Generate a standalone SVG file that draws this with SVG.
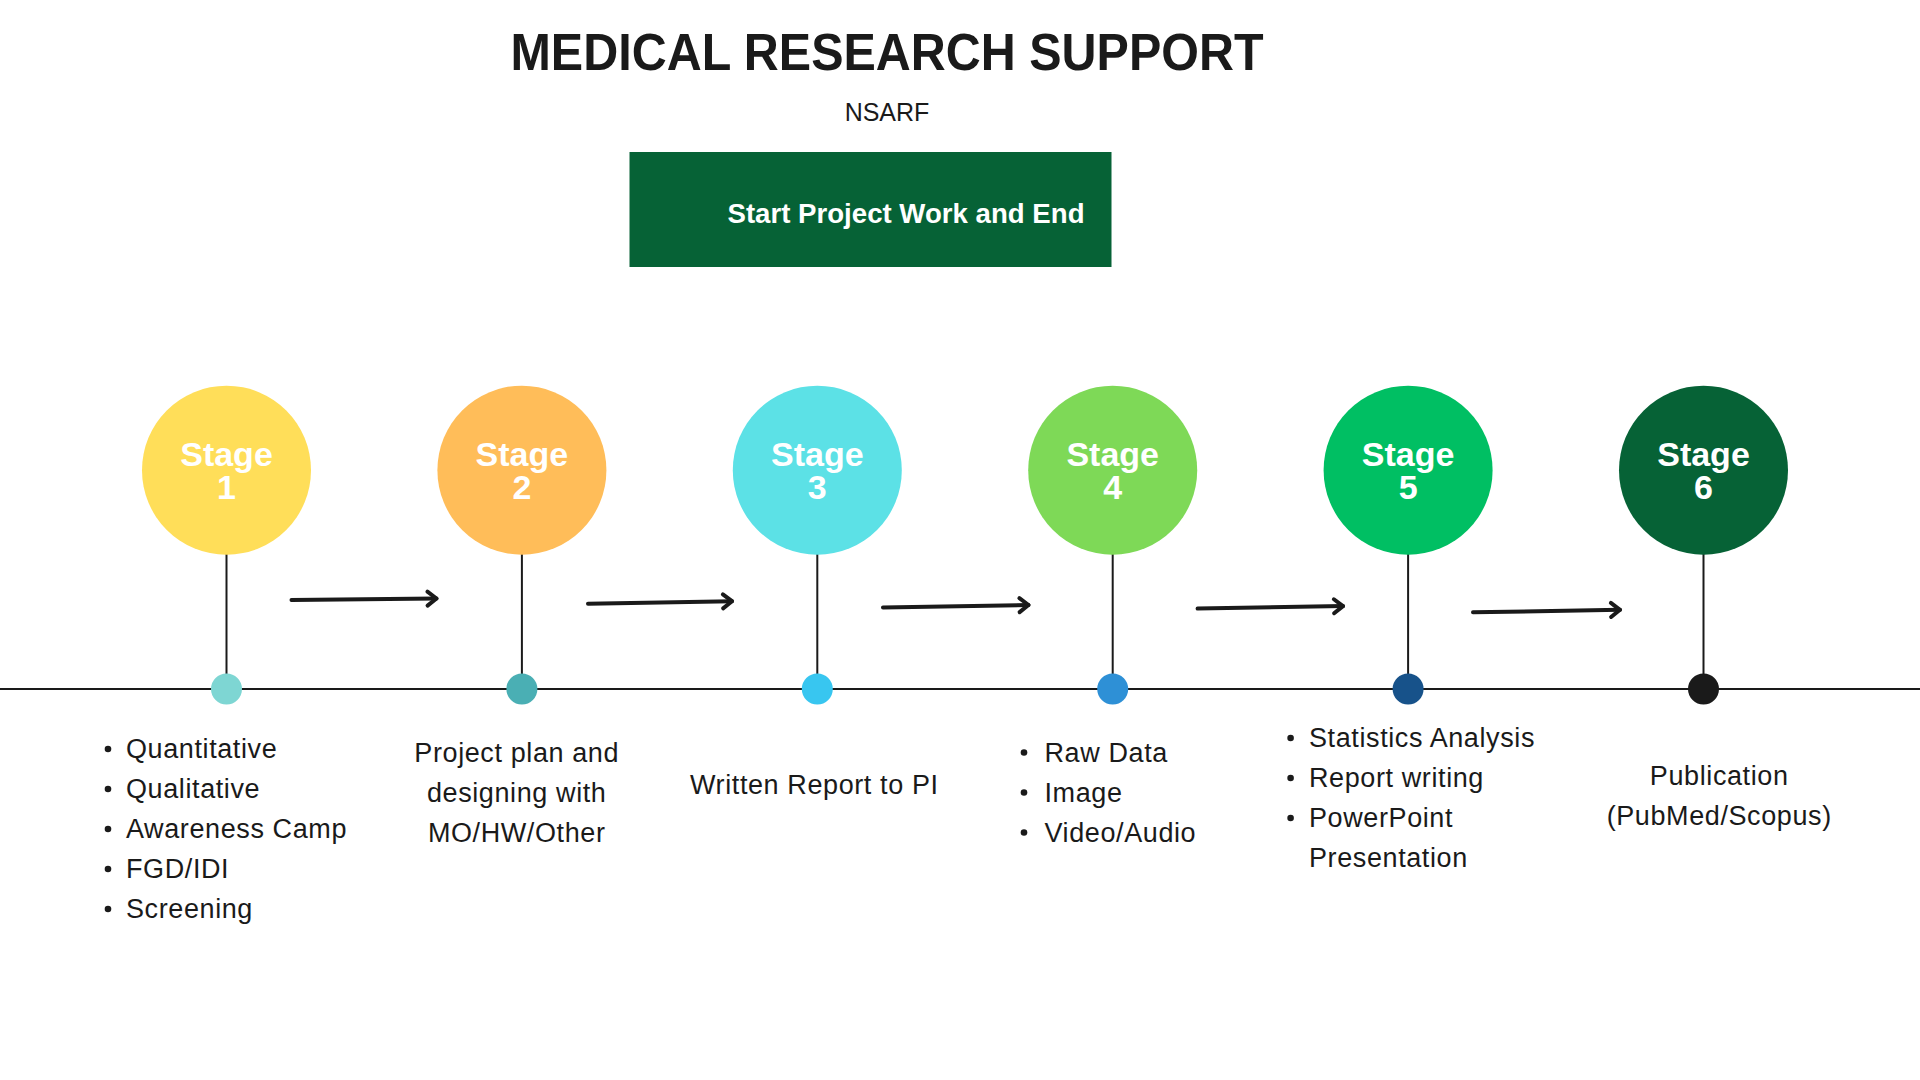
<svg xmlns="http://www.w3.org/2000/svg" width="1920" height="1080" viewBox="0 0 1920 1080">
<defs>
<style>
.title{font-family:"Liberation Sans",Arial,sans-serif;font-weight:bold;font-size:52px;fill:#1a1a1a}
.sub{font-family:"Liberation Sans",Arial,sans-serif;font-size:25px;fill:#1a1a1a}
.boxt{font-family:"Liberation Sans",Arial,sans-serif;font-weight:bold;font-size:27.5px;fill:#ffffff}
.st{font-family:"Liberation Sans",Arial,sans-serif;font-weight:bold;font-size:34px;fill:#ffffff;text-anchor:middle}
.body{font-family:"Liberation Sans",Arial,sans-serif;font-size:27px;fill:#1a1a1a;letter-spacing:0.6px}
.mid{text-anchor:middle}
.stem{stroke:#1a1a1a;stroke-width:2}
.arrow{stroke:#1a1a1a;stroke-width:4;fill:none;stroke-linecap:round}
.bul{fill:#1a1a1a}
</style>
<marker id="chev" markerUnits="userSpaceOnUse" markerWidth="24" markerHeight="24" viewBox="-12 -12 24 24" refX="0" refY="0" orient="auto">
<path d="M-9,-7 L0,0 L-9,7" fill="none" stroke="#1a1a1a" stroke-width="4" stroke-linecap="round" stroke-linejoin="round"/>
</marker>
</defs>
<rect width="1920" height="1080" fill="#ffffff"/>

<g id="header">
<text class="title" x="887" y="69.8" text-anchor="middle" textLength="753" lengthAdjust="spacingAndGlyphs">MEDICAL RESEARCH SUPPORT</text>
<text class="sub" x="887" y="121" text-anchor="middle">NSARF</text>
</g>

<g id="start-box">
<rect x="629.5" y="152" width="482" height="115" fill="#066236"/>
<text class="boxt" x="727.5" y="223" textLength="357" lengthAdjust="spacingAndGlyphs">Start Project Work and End</text>
</g>

<g id="timeline">
<line x1="0" y1="689" x2="1920" y2="689" stroke="#1a1a1a" stroke-width="2"/>
</g>

<g id="connectors">
<line class="stem" x1="226.5" y1="554" x2="226.5" y2="689"/>
<line class="stem" x1="521.9" y1="554" x2="521.9" y2="689"/>
<line class="stem" x1="817.3" y1="554" x2="817.3" y2="689"/>
<line class="stem" x1="1112.7" y1="554" x2="1112.7" y2="689"/>
<line class="stem" x1="1408.1" y1="554" x2="1408.1" y2="689"/>
<line class="stem" x1="1703.5" y1="554" x2="1703.5" y2="689"/>
<path class="arrow" d="M291.5,600 L436.5,598.5" marker-end="url(#chev)"/>
<path class="arrow" d="M588,603.7 L732,601.2" marker-end="url(#chev)"/>
<path class="arrow" d="M883,607.4 L1028.5,605" marker-end="url(#chev)"/>
<path class="arrow" d="M1197.6,608.6 L1343,606.1" marker-end="url(#chev)"/>
<path class="arrow" d="M1473,612.3 L1620,609.8" marker-end="url(#chev)"/>
</g>

<g id="stage1">
<circle cx="226.5" cy="470.2" r="84.5" fill="#FFDE59"/>
<text class="st" x="226.5" y="466">Stage</text>
<text class="st" x="226.5" y="499">1</text>
<circle cx="226.5" cy="689" r="15.5" fill="#7ED6D3"/>
<g class="body">
<circle class="bul" cx="108" cy="749" r="3.3"/><text x="126" y="758">Quantitative</text>
<circle class="bul" cx="108" cy="789" r="3.3"/><text x="126" y="798">Qualitative</text>
<circle class="bul" cx="108" cy="829" r="3.3"/><text x="126" y="838">Awareness Camp</text>
<circle class="bul" cx="108" cy="869" r="3.3"/><text x="126" y="878">FGD/IDI</text>
<circle class="bul" cx="108" cy="909" r="3.3"/><text x="126" y="918">Screening</text>
</g>
</g>

<g id="stage2">
<circle cx="521.9" cy="470.2" r="84.5" fill="#FFBD59"/>
<text class="st" x="521.9" y="466">Stage</text>
<text class="st" x="521.9" y="499">2</text>
<circle cx="521.9" cy="689" r="15.5" fill="#4AAFB4"/>
<text class="body mid" x="516.7" y="761.6">Project plan and</text>
<text class="body mid" x="516.7" y="802">designing with</text>
<text class="body mid" x="516.7" y="842">MO/HW/Other</text>
</g>

<g id="stage3">
<circle cx="817.3" cy="470.2" r="84.5" fill="#5CE1E6"/>
<text class="st" x="817.3" y="466">Stage</text>
<text class="st" x="817.3" y="499">3</text>
<circle cx="817.3" cy="689" r="15.5" fill="#38C6F0"/>
<text class="body mid" x="814.3" y="793.5">Written Report to PI</text>
</g>

<g id="stage4">
<circle cx="1112.7" cy="470.2" r="84.5" fill="#7ED957"/>
<text class="st" x="1112.7" y="466">Stage</text>
<text class="st" x="1112.7" y="499">4</text>
<circle cx="1112.7" cy="689" r="15.5" fill="#2E90D6"/>
<g class="body">
<circle class="bul" cx="1024" cy="752.5" r="3.3"/><text x="1044.5" y="761.6">Raw Data</text>
<circle class="bul" cx="1024" cy="792.5" r="3.3"/><text x="1044.5" y="801.6">Image</text>
<circle class="bul" cx="1024" cy="832.5" r="3.3"/><text x="1044.5" y="841.6">Video/Audio</text>
</g>
</g>

<g id="stage5">
<circle cx="1408.1" cy="470.2" r="84.5" fill="#00BF63"/>
<text class="st" x="1408.1" y="466">Stage</text>
<text class="st" x="1408.1" y="499">5</text>
<circle cx="1408.1" cy="689" r="15.5" fill="#17528A"/>
<g class="body">
<circle class="bul" cx="1290.6" cy="738" r="3.3"/><text x="1309" y="747">Statistics Analysis</text>
<circle class="bul" cx="1290.6" cy="778" r="3.3"/><text x="1309" y="787">Report writing</text>
<circle class="bul" cx="1290.6" cy="818" r="3.3"/><text x="1309" y="827">PowerPoint</text>
<text x="1309" y="867">Presentation</text>
</g>
</g>

<g id="stage6">
<circle cx="1703.5" cy="470.2" r="84.5" fill="#066236"/>
<text class="st" x="1703.5" y="466">Stage</text>
<text class="st" x="1703.5" y="499">6</text>
<circle cx="1703.5" cy="689" r="15.5" fill="#1A1A1A"/>
<text class="body mid" x="1719.2" y="785">Publication</text>
<text class="body mid" x="1719.2" y="825">(PubMed/Scopus)</text>
</g>
</svg>
